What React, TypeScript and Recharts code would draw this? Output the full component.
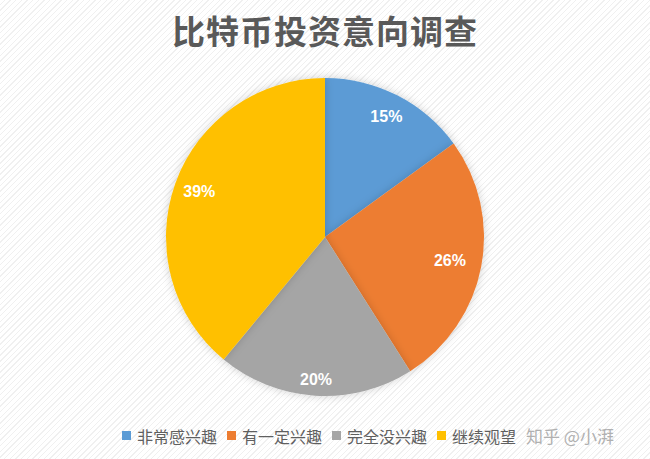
import React from "react";
import { PieChart, Pie, Cell, Legend } from "recharts";

const categories = ["非常感兴趣", "有一定兴趣", "完全没兴趣", "继续观望"];
const values = [15, 26, 20, 39];
const colors = ["#5B9BD5", "#ED7D31", "#A5A5A5", "#FFC000"];
const title = "比特币投资意向调查";
const watermark = "知乎 @小湃";
const labelRadius = [0.85, 0.8, 0.9, 0.84];

const data = categories.map((name, i) => ({ name, value: values[i] }));
const FONT = "'Noto Sans CJK SC', 'Noto Sans', sans-serif";

const renderLegend = () => (
  <div
    style={{
      display: "flex",
      alignItems: "center",
      justifyContent: "flex-start",
      paddingLeft: 122,
      fontFamily: FONT,
      fontSize: 16,
      color: "#5f5f5f",
      whiteSpace: "nowrap",
    }}
  >
    {categories.map((c, i) => (
      <span key={c} style={{ display: "inline-flex", alignItems: "center", marginRight: 10 }}>
        <span
          style={{
            display: "inline-block",
            width: 9,
            height: 9,
            background: colors[i],
            marginRight: 6,
          }}
        />
        {c}
      </span>
    ))}
    <span style={{ color: "#b0b0b0", fontSize: 17 }}>{watermark}</span>
  </div>
);

const renderLabel = (props: any) => {
  const { cx, cy, midAngle, outerRadius, value, index } = props;
  const RAD = Math.PI / 180;
  const r = outerRadius * (labelRadius[index] ?? 0.84);
  const x = cx + r * Math.cos(-midAngle * RAD);
  const y = cy + r * Math.sin(-midAngle * RAD);
  return (
    <text
      x={x}
      y={y}
      fill="#ffffff"
      textAnchor="middle"
      dominantBaseline="central"
      fontFamily="Arial, 'Liberation Sans', sans-serif"
      fontWeight="bold"
      fontSize={16}
    >
      {value}%
    </text>
  );
};

export default function App() {
  return (
    <div
      style={{
        position: "absolute",
        left: 0,
        top: 0,
        width: 650,
        height: 459,
        background:
          "repeating-linear-gradient(135deg, #ffffff 0px, #ffffff 3px, #f0f0f0 3px, #f0f0f0 4px)",
      }}
    >
      <div
        style={{
          position: "absolute",
          top: 6,
          left: 0,
          width: 650,
          textAlign: "center",
          fontFamily: FONT,
          fontWeight: "bold",
          fontSize: 33,
          color: "#595959",
          letterSpacing: 1,
        }}
      >
        {title}
      </div>
      <PieChart width={650} height={459} margin={{ top: 0, right: 0, bottom: 0, left: 0 }}>
        <defs>
          <filter id="pieShadow" x="-20%" y="-20%" width="140%" height="140%">
            <feDropShadow dx="0" dy="0" stdDeviation="4" floodColor="#000" floodOpacity="0.18" />
          </filter>
        </defs>
        <Pie
          data={data}
          dataKey="value"
          nameKey="name"
          cx={325}
          cy={237}
          outerRadius={159}
          startAngle={90}
          endAngle={-270}
          stroke="none"
          isAnimationActive={false}
          labelLine={false}
          label={renderLabel}
          style={{ filter: "url(#pieShadow)" }}
        >
          {data.map((d, i) => (
            <Cell key={d.name} fill={colors[i]} />
          ))}
        </Pie>
        <Legend
          content={renderLegend}
          wrapperStyle={{ position: "absolute", left: 0, top: 423, width: 650 }}
        />
      </PieChart>
    </div>
  );
}
